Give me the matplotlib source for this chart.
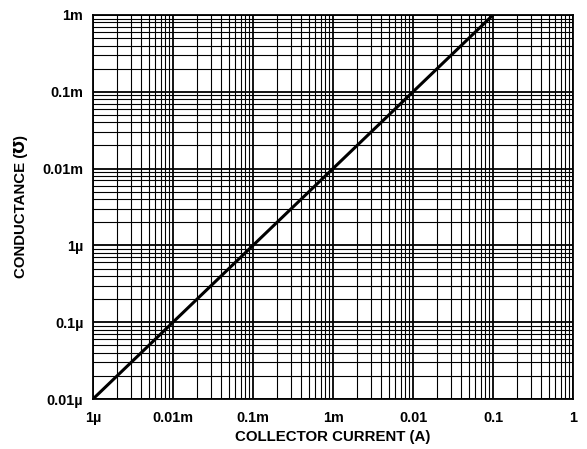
import matplotlib
matplotlib.use("Agg")
import matplotlib.pyplot as plt
from matplotlib.ticker import FixedLocator, LogLocator, NullFormatter

# collector current (A) vs conductance (mho)
current = [1e-6, 1e-1]
conductance = [1e-8, 1e-3]

x_ticks = [1e-6, 1e-5, 1e-4, 1e-3, 1e-2, 1e-1, 1]
x_labels = ["1µ", "0.01m", "0.1m", "1m", "0.01", "0.1", "1"]
y_ticks = [1e-8, 1e-7, 1e-6, 1e-5, 1e-4, 1e-3]
y_labels = ["0.01µ", "0.1µ", "1µ", "0.01m", "0.1m", "1m"]

plt.rcParams['font.family'] = ['Liberation Sans', 'DejaVu Sans']
plt.rcParams['font.weight'] = 'bold'

fig = plt.figure(figsize=(5.87, 4.49), dpi=100)
ax = fig.add_axes([93 / 587, 1 - 399 / 449, 480 / 587, 384 / 449])

ax.set_xscale("log")
ax.set_yscale("log")
ax.set_xlim(1e-6, 1)
ax.set_ylim(1e-8, 1e-3)

ax.plot(current, conductance, color="black", lw=2.2, solid_capstyle="butt", zorder=3)

ax.xaxis.set_major_locator(FixedLocator(x_ticks))
ax.yaxis.set_major_locator(FixedLocator(y_ticks))
ax.set_xticklabels(x_labels)
ax.set_yticklabels(y_labels)
ax.xaxis.set_minor_locator(LogLocator(base=10, subs=range(2, 10), numticks=20))
ax.yaxis.set_minor_locator(LogLocator(base=10, subs=range(2, 10), numticks=20))
ax.xaxis.set_minor_formatter(NullFormatter())
ax.yaxis.set_minor_formatter(NullFormatter())

ax.grid(True, which="major", color="black", lw=1.3)
ax.grid(True, which="minor", color="black", lw=0.8)
ax.tick_params(which="both", length=0, labelsize=10.4)
ax.tick_params(axis="x", pad=8.5)
ax.tick_params(axis="y", pad=7)
for s in ax.spines.values():
    s.set_linewidth(1.3)

ax.set_xlabel("COLLECTOR CURRENT (A)", fontsize=10.8, fontweight="bold", labelpad=4)
ax.set_ylabel("CONDUCTANCE (\u2127)", fontsize=10.8, fontweight="bold", labelpad=10)

fig.savefig("out.png", dpi=100)
